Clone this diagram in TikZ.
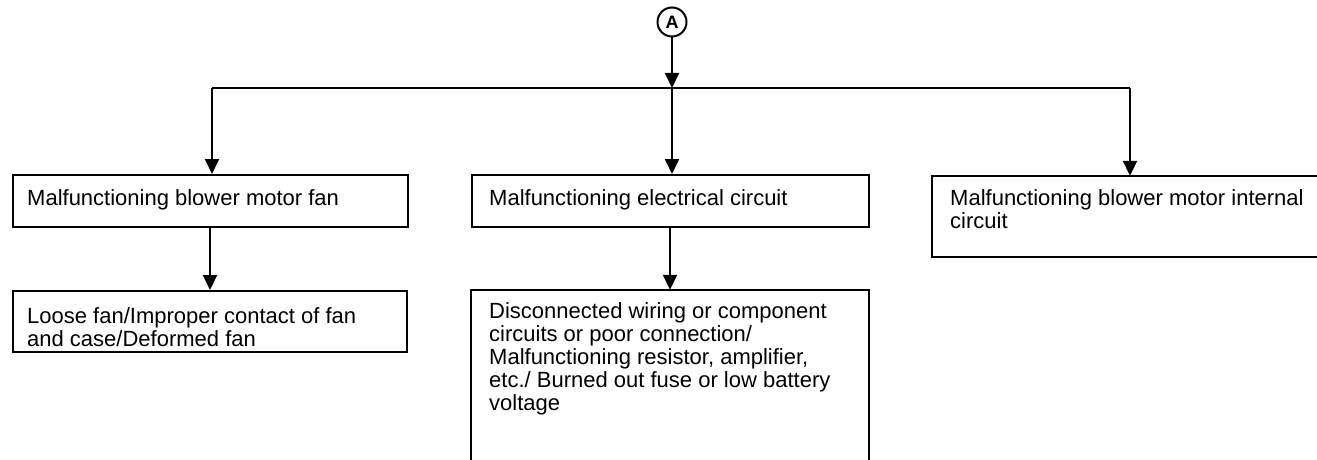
\documentclass[tikz,border=0pt]{standalone}
\usepackage{fontspec}
\setmainfont{Liberation Sans}
\usetikzlibrary{arrows.meta}
\begin{document}
\begin{tikzpicture}[x=1pt,y=-1pt,
  boxline/.style={line width=2pt, line join=miter},
  box/.style={draw, boxline, rectangle, inner sep=0pt},
  hidbox/.style={rectangle, inner sep=0pt},
  wire/.style={line width=2pt},
  arr/.style={wire, -{Triangle[width=14pt,length=15pt]}},
  txt/.style={inner sep=0pt, anchor=north west, align=left,
    font=\fontsize{22}{23}\selectfont}]
\useasboundingbox (0,0) rectangle (1317,460);
\clip (0,0) rectangle (1317,460);
\fill[white] (0,0) rectangle (1317,460);

% start symbol
\node[circle, draw, line width=2pt, minimum size=29pt, inner sep=0pt,
  font=\bfseries\fontsize{18}{18}\selectfont] (A) at (672,22) {A};

% boxes
\node[box, minimum width=395pt, minimum height=52pt] (b1) at (210,201) {};
\node[box, minimum width=397pt, minimum height=52pt] (b2) at (670,201) {};
\node[hidbox, minimum width=396pt, minimum height=81pt] (b3) at (1130,216.5) {};
\node[box, minimum width=394pt, minimum height=61pt] (b4) at (210,321.5) {};
\node[hidbox, minimum width=397pt, minimum height=190pt] (b5) at (670,385) {};
\draw[boxline] (b3.north east) -- (b3.north west) -- (b3.south west) -- (b3.south east);
\draw[boxline] (b5.south west) -- (b5.north west) -- (b5.north east) -- (b5.south east);

% texts
\node[txt] (t1) at (27,189) {Malfunctioning blower motor fan};
\node[txt] (t2) at (489,189) {Malfunctioning electrical circuit};
\node[txt] (t3) at (950,189) {Malfunctioning blower motor internal\\circuit};
\node[txt] (t4) at (27,307) {Loose fan/Improper contact of fan\\and case/Deformed fan};
\node[txt] (t5) at (489,302) {Disconnected wiring or component\\circuits or poor connection/\\Malfunctioning resistor, amplifier,\\etc./ Burned out fuse or low battery\\voltage};

% connectors
\coordinate (busL) at (212,88);
\coordinate (busM) at (672,88);
\coordinate (busR) at (1130,88);
\draw[wire] (busL) -- (busR);
\draw[arr] (A.south) -- (busM);
\draw[arr] (busL) -- (busL |- b1.north);
\draw[arr] (busM) -- (busM |- b2.north);
\draw[arr] (busR) -- (busR |- b3.north);
\draw[arr] (b1.south) -- (b4.north);
\draw[arr] (b2.south) -- (b5.north);
\end{tikzpicture}
\end{document}
